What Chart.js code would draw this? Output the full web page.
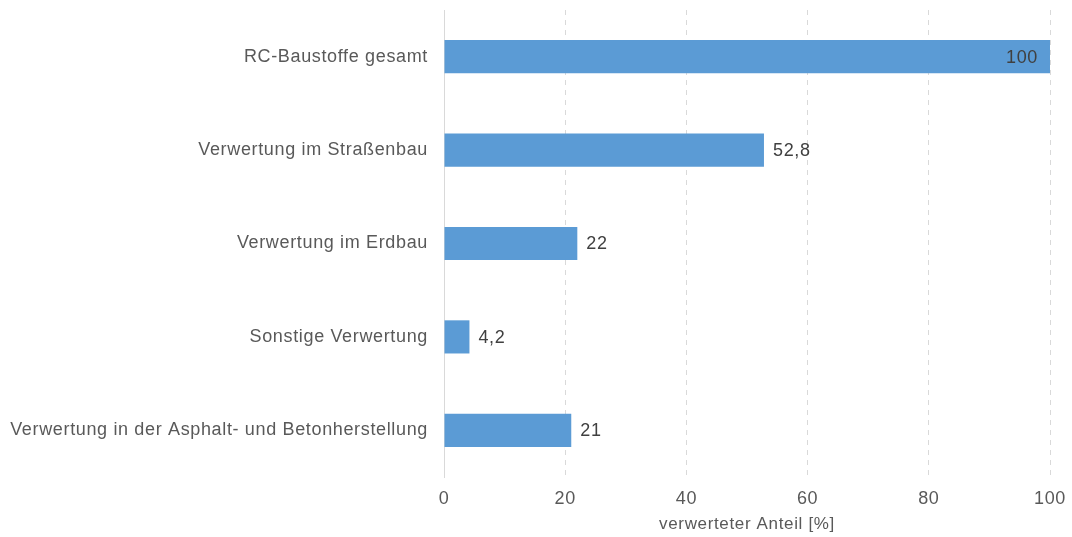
<!DOCTYPE html>
<html>
<head>
<meta charset="utf-8">
<script src="https://cdn.jsdelivr.net/npm/chart.js@4"></script>
<style>
  html, body { margin: 0; padding: 0; background: #fff; }
  #wrap { width: 1072px; height: 537px; }
</style>
</head>
<body>
<div id="wrap"><canvas id="myChart" width="1072" height="537"></canvas></div>
<script>
const categories = [
  "RC-Baustoffe gesamt",
  "Verwertung im Straßenbau",
  "Verwertung im Erdbau",
  "Sonstige Verwertung",
  "Verwertung in der Asphalt- und Betonherstellung"
];
const shares = [100, 52.8, 22, 4.2, 21];
const xTicks = [0, 20, 40, 60, 80, 100];
const axisTitle = "verwerteter Anteil [%]";

const FONT = "'Liberation Sans', Arial, sans-serif";
const SPACING = "0.65px";
const fmt = v => String(v).replace(".", ",");

// slightly wider letter spacing like the original
const spacing = {
  id: "spacing",
  beforeUpdate(chart) { chart.ctx.letterSpacing = SPACING; },
  beforeDraw(chart) { chart.ctx.letterSpacing = SPACING; }
};

// value labels next to / inside the bars
const valueLabels = {
  id: "valueLabels",
  afterDatasetsDraw(chart) {
    const ctx = chart.ctx;
    const meta = chart.getDatasetMeta(0);
    ctx.save();
    ctx.letterSpacing = SPACING;
    ctx.font = "18px " + FONT;
    ctx.fillStyle = "#404040";
    ctx.textBaseline = "middle";
    meta.data.forEach((bar, i) => {
      const v = shares[i];
      if (v >= 90) {
        ctx.textAlign = "right";
        ctx.fillText(fmt(v), bar.x - 12, bar.y + 1);
      } else {
        ctx.textAlign = "left";
        ctx.fillText(fmt(v), bar.x + 9, bar.y + 1);
      }
    });
    ctx.restore();
  }
};

let myChart;

document.addEventListener("DOMContentLoaded", function() {
  myChart = new Chart(document.getElementById("myChart").getContext("2d"), {
    type: "bar",
    data: {
      labels: categories,
      datasets: [{
        data: shares,
        backgroundColor: "#5B9BD5",
        categoryPercentage: 1,
        barPercentage: 0.355
      }]
    },
    options: {
      indexAxis: "y",
      responsive: false,
      animation: false,
      layout: { padding: { left: 0, right: 22, top: 10, bottom: 0 } },
      plugins: {
        legend: { display: false },
        tooltip: { enabled: false }
      },
      scales: {
        x: {
          min: 0,
          max: 100,
          afterBuildTicks: axis => { axis.ticks = xTicks.map(v => ({ value: v })); },
          afterFit: axis => { axis.height = 60; axis.paddingLeft = 0; axis.paddingRight = 0; },
          grid: { color: "#D9D9D9", lineWidth: 1, drawTicks: false },
          border: { display: false, dash: [5, 5] },
          ticks: {
            color: "#595959",
            font: { family: FONT, size: 18 },
            padding: 11
          },
          title: {
            display: true,
            text: axisTitle,
            color: "#595959",
            font: { family: FONT, size: 17 },
            padding: { top: 2, bottom: 2 }
          }
        },
        y: {
          afterFit: axis => { axis.width = 444; axis.paddingTop = 0; axis.paddingBottom = 0; },
          grid: { display: false, drawTicks: false },
          border: { display: true, color: "#D9D9D9", width: 1 },
          ticks: {
            color: "#595959",
            font: { family: FONT, size: 18 },
            padding: 16
          }
        }
      }
    },
    plugins: [spacing, valueLabels]
  });
});
</script>
</body>
</html>
